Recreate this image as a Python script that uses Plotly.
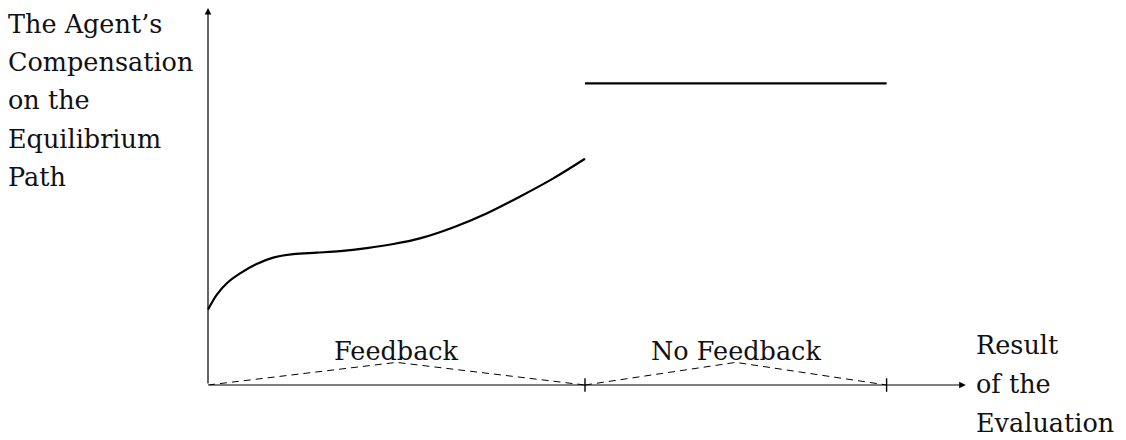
import plotly.graph_objects as go

# ---- data (in chart units) ----
feedback_x = [0, 0.23, 0.5, 0.85, 1.29, 1.73, 2.26, 2.88, 3.5, 4.21, 4.92, 5.62, 6.5, 7.39, 8.28, 9.16, 10]
feedback_y = [2.0, 2.39, 2.7, 2.96, 3.21, 3.38, 3.47, 3.51, 3.55, 3.63, 3.74, 3.89, 4.18, 4.55, 5.0, 5.48, 6.0]
nofeedback_x = [10, 18]
nofeedback_y = [8, 8]
region1_x = [0, 5, 10]
region1_y = [0, 0.6, 0]
region2_x = [10, 14, 18]
region2_y = [0, 0.6, 0]
tick_positions = [10, 18]
region_labels = ["Feedback", "No Feedback"]
region_label_x = [5.0, 14.0]
y_label_lines = ["The Agent\u2019s", "Compensation", "on the", "Equilibrium", "Path"]
x_label_lines = ["Result", "of the", "Evaluation"]
x_axis_end = 20.1
y_axis_end = 10.0

# ---- pixel geometry helpers (page pixels; the page body has an 8px margin) ----
OFF = 8
W, H = 1126 - OFF, 440 - OFF
X0, Y0, S = 208, 385, 37.7


def ux(px):
    return (px - X0) / S


def uy(py):
    return (Y0 - py) / S


FONT = "DejaVu Serif"
FS = 25.5

fig = go.Figure()

fig.add_trace(go.Scatter(x=feedback_x, y=feedback_y, mode="lines",
                         line=dict(color="black", width=2.2, shape="spline", smoothing=0.9),
                         hoverinfo="skip", showlegend=False))
fig.add_trace(go.Scatter(x=nofeedback_x, y=nofeedback_y, mode="lines",
                         line=dict(color="black", width=2.4),
                         hoverinfo="skip", showlegend=False))
for rx, ry in [(region1_x, region1_y), (region2_x, region2_y)]:
    fig.add_trace(go.Scatter(x=rx, y=ry, mode="lines",
                             line=dict(color="black", width=1, dash="7px,5px"),
                             hoverinfo="skip", showlegend=False))
tx, ty = [], []
for t in tick_positions:
    tx += [t, t, None]
    ty += [-0.18, 0.18, None]
fig.add_trace(go.Scatter(x=tx, y=ty, mode="lines",
                         line=dict(color="black", width=1.4),
                         hoverinfo="skip", showlegend=False))

annotations = []
annotations.append(dict(x=x_axis_end, y=0, ax=0, ay=0, xref="x", yref="y", axref="x", ayref="y",
                        showarrow=True, arrowhead=2, arrowsize=1.1, arrowwidth=1.2,
                        arrowcolor="black", text=""))
annotations.append(dict(x=0, y=y_axis_end, ax=0, ay=0, xref="x", yref="y", axref="x", ayref="y",
                        showarrow=True, arrowhead=2, arrowsize=1.1, arrowwidth=1.2,
                        arrowcolor="black", text=""))

for lab, lx in zip(region_labels, region_label_x):
    annotations.append(dict(x=lx, y=uy(359 - 8), xref="x", yref="y", text=lab, showarrow=False,
                            xanchor="center", yanchor="middle",
                            font=dict(family=FONT, size=FS, color="#111")))

y_baselines = [32, 70, 108, 147, 185]
for line, b in zip(y_label_lines, y_baselines):
    annotations.append(dict(x=ux(9), xshift=-3, y=uy(b - 8), xref="x", yref="y", text=line,
                            showarrow=False, xanchor="left", yanchor="middle",
                            font=dict(family=FONT, size=FS, color="#111")))

x_baselines = [353, 392, 431]
for line, b in zip(x_label_lines, x_baselines):
    annotations.append(dict(x=ux(974), y=uy(b - 8), xref="x", yref="y", text=line, showarrow=False,
                            xanchor="left", yanchor="middle",
                            font=dict(family=FONT, size=FS, color="#111")))

fig.update_layout(
    width=W, height=H,
    margin=dict(l=0, r=0, t=0, b=0),
    paper_bgcolor="white", plot_bgcolor="white",
    xaxis=dict(range=[ux(OFF), ux(1126)], visible=False, fixedrange=True),
    yaxis=dict(range=[uy(440), uy(OFF)], visible=False, fixedrange=True),
    annotations=annotations,
    showlegend=False,
)

fig.write_html("out.html")
